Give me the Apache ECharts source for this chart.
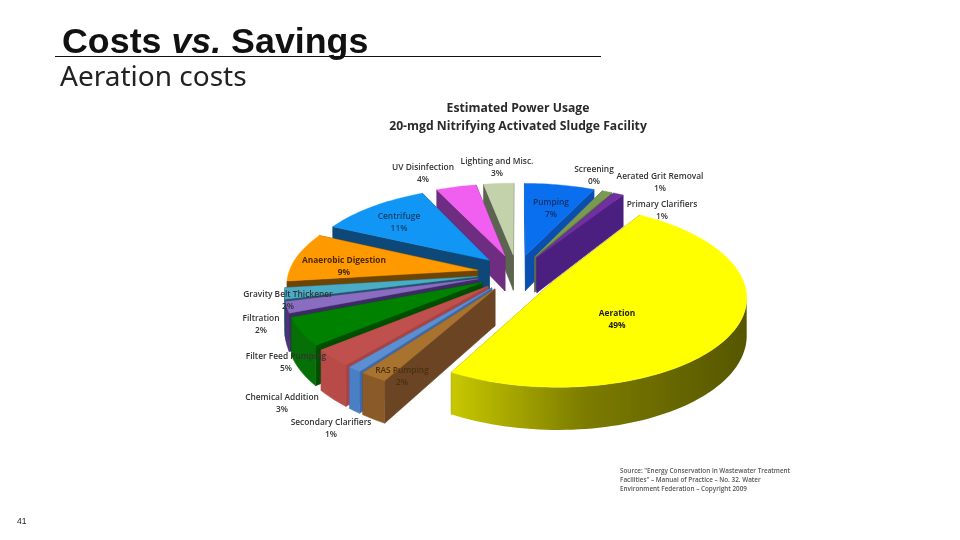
<!DOCTYPE html>
<html><head><meta charset="utf-8">
<style>html,body{margin:0;padding:0;background:#fff}#c{width:960px;height:540px}</style>
<script src="https://cdn.jsdelivr.net/npm/echarts@6/dist/echarts.min.js"></script>
</head><body><div id="c"></div>
<script>
// ---- data ----
const categories = ['Pumping','Screening','Aerated Grit Removal','Primary Clarifiers','Aeration','RAS Pumping','Secondary Clarifiers','Chemical Addition','Filter Feed Pumping','Filtration','Gravity Belt Thickener','Anaerobic Digestion','Centrifuge','UV Disinfection','Lighting and Misc.'];
const percents = [7,0,1,1,49,2,1,3,5,2,2,9,11,4,3];
const topColors = ['#0a6fee','#4f6228','#7a9a52','#7030a0','#ffff00','#a8722f','#5b8fd0','#c0504d','#008200','#8a6cc0','#4bacc6','#ff9900','#1296f5','#f05ff0','#c4d2ac'];
const wallColors = ['#0a4fb0','#3a4a20','#5c6a48','#4a1f80','#8a8a00','#6b4423','#3a6ab0','#a84343','#004f00','#3d2a66','#1f5570','#6e4500','#0d4878','#6e2d80','#5c6350'];
const rimColors = ['#0a58c8','#3a4a20','#5c6a48','#4a1f80','#8a8a00','#8a5a28','#4a7fc4','#b84a48','#067006','#4a3478','#2c6f8a','#7a4e00','#0d4878','#6e2d80','#5c6350'];
const labelAnchors = [[551,209],[594,176],[660,183],[662,211],[617,320],[402,377],[331,429],[282,404],[286,363],[261,325],[288,301],[344,267],[399,223],[423,174],[497,168]];
const labelInk = ['#12306a','#333','#333','#333','#222','#4a3010','#333','#333','#333','#333','#333','#4a2a00','#12406a','#333','#333'];
const labelWeight = [600,600,600,600,700,600,600,600,600,600,600,700,600,600,600];
const headline = 'Costs', headlineItalic = 'vs.', headlineEnd = 'Savings';
const subhead = 'Aeration costs';
const chartTitleLines = ['Estimated Power Usage','20-mgd Nitrifying Activated Sludge Facility'];
const sourceLines = ['Source: "Energy Conservation in Wastewater Treatment','Facilities" \u2013 Manual of Practice \u2013 No. 32. Water','Environment Federation \u2013 Copyright 2009'];
const pageNumber = '41';

// ---- pie geometry ----
const CX = 517, CY = 273, R = 189, EXPLODE = 40, DEPTH = 36, TILT = 0.46, PERSP = 0.00075;
const total = percents.reduce((a, b) => a + b, 0);
function project(X, Y, z) {
  const s = 1 / (1 - PERSP * Y);
  return [CX + X * s, CY + TILT * Y * s + z * s];
}
function sliceShapes(i) {
  let before = 0;
  for (let k = 0; k < i; k++) before += percents[k];
  const a0 = before / total * 2 * Math.PI, a1 = (before + percents[i]) / total * 2 * Math.PI;
  const mid = (a0 + a1) / 2;
  const ox = EXPLODE * Math.sin(mid), oy = -EXPLODE * Math.cos(mid);
  const rim = [];
  const n = Math.max(2, Math.ceil((a1 - a0) / 0.03));
  for (let j = 0; j <= n; j++) {
    const a = a0 + (a1 - a0) * j / n;
    rim.push([ox + R * Math.sin(a), oy - R * Math.cos(a)]);
  }
  const P = (p, z) => project(p[0], p[1], z);
  const apex = [ox, oy];
  const quad = (p, q) => [P(p, 0), P(q, 0), P(q, DEPTH), P(p, DEPTH)];
  const walls = [
    { y: (apex[1] + rim[0][1]) / 2, pts: quad(apex, rim[0]) },
    { y: (apex[1] + rim[n][1]) / 2, pts: quad(apex, rim[n]) }
  ].sort((a, b) => a.y - b.y);
  // only the stretch of rim that faces the viewer (runs right to left on screen) gets a wall
  const front = rim.filter((p, j) => {
    const q = rim[Math.min(j + 1, n)], o = rim[Math.max(j - 1, 0)];
    return P(q, 0)[0] < P(o, 0)[0];
  });
  const rimWall = front.map(p => P(p, 0)).concat(front.slice().reverse().map(p => P(p, DEPTH)));
  const top = [P(apex, 0)].concat(rim.map(p => P(p, 0)));
  return { walls, rimWall, top, depthKey: oy + R * 0.6 * Math.cos(Math.PI - mid) };
}
const drawOrder = categories.map((_, i) => i).filter(i => percents[i] > 0)
  .sort((a, b) => sliceShapes(a).depthKey - sliceShapes(b).depthKey);
const seriesData = drawOrder.map(i => ({ name: categories[i], value: [i, percents[i]] }));

function renderItem(params, api) {
  const i = api.value(0);
  const g = sliceShapes(i);
  const wall = wallColors[i];
  const children = g.walls.map(w => ({
    type: 'polygon', shape: { points: w.pts },
    style: { fill: wall, stroke: wall, lineWidth: 0.6 }
  }));
  const isAeration = categories[i] === 'Aeration';
  const rimFill = isAeration
    ? { type: 'linear', x: 0, y: 0, x2: 1, y2: 0, colorStops: [
        { offset: 0, color: '#c8c800' }, { offset: 0.45, color: '#7c7c00' }, { offset: 1, color: '#565600' }] }
    : rimColors[i];
  if (g.rimWall.length) {
    children.push({ type: 'polygon', shape: { points: g.rimWall },
      style: isAeration ? { fill: rimFill } : { fill: rimFill, stroke: rimFill, lineWidth: 0.6 } });
  }
  children.push({ type: 'polygon', shape: { points: g.top },
    style: { fill: topColors[i], stroke: topColors[i], lineWidth: 0.4 } });
  return { type: 'group', children };
}

const FONT = '"Open Sans","Noto Sans",sans-serif';
const labelGraphics = categories.map((name, i) => ({
  type: 'text', x: labelAnchors[i][0], y: labelAnchors[i][1], z: 100,
  style: { text: name + '\n' + percents[i] + '%', fill: labelInk[i], font: labelWeight[i] + ' 8.4px ' + FONT,
    align: 'center', verticalAlign: 'middle', lineHeight: 12 }
}));

const chart = echarts.init(document.getElementById('c'), null, { renderer: 'canvas' });
chart.setOption({
  animation: false,
  backgroundColor: '#fff',
  series: [{ type: 'custom', coordinateSystem: 'none', renderItem, data: seriesData, silent: true, clip: false }],
  graphic: [
    { type: 'text', x: 62, y: 25, z: 100, style: { text: '{a|' + headline + ' }{b|' + headlineItalic + '}{a| ' + headlineEnd + '}',
        rich: { a: { font: 'bold 35.8px "Liberation Sans"', fill: '#111' }, b: { font: 'italic bold 35.8px "Liberation Sans"', fill: '#111' } } } },
    { type: 'line', z: 101, shape: { x1: 55, y1: 56.5, x2: 601, y2: 56.5 }, style: { stroke: '#111', lineWidth: 1 } },
    { type: 'text', x: 60, y: 64, z: 100, style: { text: subhead, font: '28px "Noto Sans"', fill: '#222' } },
    { type: 'text', x: 518, y: 118, z: 100, style: { text: chartTitleLines.join('\n'), font: 'bold 12.2px "Open Sans"', fill: '#2a2a2a',
        align: 'center', verticalAlign: 'middle', lineHeight: 18 } },
    { type: 'text', x: 620, y: 467, z: 100, style: { text: sourceLines.join('\n'), font: '600 6.35px "Open Sans"', fill: '#555', lineHeight: 9 } },
    { type: 'text', x: 17, y: 517, z: 100, style: { text: pageNumber, font: '8.5px "Liberation Sans"', fill: '#222' } }
  ].concat(labelGraphics)
});
</script></body></html>
